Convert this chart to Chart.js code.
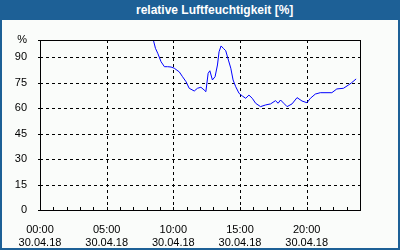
<!DOCTYPE html>
<html>
<head>
<meta charset="utf-8">
<script src="https://cdn.jsdelivr.net/npm/chart.js@4"></script>
<style>
  html, body { margin: 0; padding: 0; }
  body { width: 400px; height: 250px; background: #1d6096; position: relative; overflow: hidden; }
  #title {
    position: absolute; left: 0; top: 0; width: 400px; height: 20px;
    color: #fff; font: bold 12px "Liberation Sans", Arial, sans-serif;
    line-height: 20px; padding-left: 136px; box-sizing: border-box;
  }
  #panel { position: absolute; left: 2px; top: 20px; width: 396px; height: 228px; background: #fafcfa; }
</style>
</head>
<body>
<div id="title">relative Luftfeuchtigkeit [%]</div>
<div id="panel"><canvas id="hum" width="396" height="228"></canvas></div>
<script>
/* data: hour of day and humidity in % */
const hours = [8.5, 8.66, 8.83, 9.08, 9.33, 9.57, 9.83, 10.07, 10.45, 10.69, 10.95, 11.19, 11.57, 11.81,
  12.07, 12.31, 12.44, 12.61, 12.74, 12.93, 13.13, 13.31, 13.43, 13.58, 13.75, 13.93, 14.13, 14.31,
  14.48, 14.68, 14.93, 15.17, 15.43, 15.67, 15.92, 16.17, 16.54, 16.92, 17.29, 17.66, 17.86, 18.04,
  18.28, 18.53, 18.9, 19.28, 19.65, 20.02, 20.28, 20.65, 21.02, 21.89, 22.26, 22.76, 23.13, 23.38, 23.71];
const humidity = [100, 95.1, 92.2, 87.2, 84.3, 84.3, 84.1, 83.4, 81.2, 78.4, 75.5, 71.6, 70.0, 71.6,
  72.2, 70.6, 69.6, 80.4, 81.9, 76.5, 78.4, 85.3, 93.1, 96.5, 95.1, 93.7, 88.2, 83.4,
  76.5, 72.5, 68.6, 67.1, 65.7, 67.6, 65.7, 62.8, 60.8, 61.8, 62.4, 64.3, 62.8, 64.7,
  62.8, 60.8, 62.4, 66.1, 64.1, 63.1, 65.7, 68.2, 69.0, 69.0, 71.2, 71.6, 73.5, 74.9, 77.1];

const xTickLabels = { 0: '00:00', 5: '05:00', 10: '10:00', 15: '15:00', 20: '20:00' };
const dateLabel = '30.04.18';
const yTickValues = [0, 15, 30, 45, 60, 75, 90, 100];
const yTickLabels = ['0', '15', '30', '45', '60', '75', '90', '%'];

const FONT = { family: "'Liberation Sans', Arial, sans-serif", size: 11 };

/* dashed grid, frame round the plot and the small axis ticks */
const framePlugin = {
  id: 'frame',
  beforeDatasetsDraw(chart) {
    const { ctx, chartArea: a, scales } = chart;
    ctx.save();
    ctx.strokeStyle = '#000';
    ctx.lineWidth = 1;
    ctx.setLineDash([3, 3]);
    ctx.beginPath();
    scales.x.ticks.forEach(t => {
      if (t.value % 5 !== 0 || t.value <= 0 || t.value >= 24) return;
      const px = Math.round(scales.x.getPixelForValue(t.value)) + 0.5;
      ctx.moveTo(px, a.top);
      ctx.lineTo(px, a.bottom);
    });
    scales.y.ticks.forEach(t => {
      if (t.value <= 0 || t.value >= 100) return;
      const py = Math.round(scales.y.getPixelForValue(t.value)) + 0.5;
      ctx.moveTo(a.left, py);
      ctx.lineTo(a.right, py);
    });
    ctx.stroke();
    ctx.restore();
  },
  afterDatasetsDraw(chart) {
    const { ctx, chartArea: a, scales } = chart;
    ctx.save();
    ctx.strokeStyle = '#000';
    ctx.lineWidth = 1;
    ctx.setLineDash([]);
    ctx.strokeRect(Math.round(a.left) + 0.5, Math.round(a.top) + 0.5,
      Math.round(a.right - a.left), Math.round(a.bottom - a.top));
    ctx.beginPath();
    scales.x.ticks.forEach(t => {
      const px = Math.round(scales.x.getPixelForValue(t.value)) + 0.5;
      ctx.moveTo(px, a.bottom);
      ctx.lineTo(px, a.bottom - 3);
    });
    scales.y.ticks.forEach(t => {
      const py = Math.round(scales.y.getPixelForValue(t.value)) + 0.5;
      ctx.moveTo(a.left - 2, py);
      ctx.lineTo(a.left, py);
    });
    ctx.stroke();
    ctx.restore();
  }
};

new Chart(document.getElementById('hum'), {
  type: 'line',
  data: {
    datasets: [{
      data: hours.map((h, i) => ({ x: h, y: humidity[i] })),
      borderColor: '#0000ff',
      borderWidth: 1,
      pointRadius: 0,
      tension: 0,
      fill: false,
    }],
  },
  options: {
    responsive: false,
    animation: false,
    layout: { padding: { top: 20, right: 38, left: 0, bottom: 0 } },
    plugins: { legend: { display: false }, tooltip: { enabled: false } },
    scales: {
      x: {
        type: 'linear',
        min: 0, max: 24,
        afterFit: s => { s.height = 38; },
        border: { display: false },
        ticks: {
          stepSize: 1, autoSkip: false, maxRotation: 0, padding: 5,
          color: '#000', font: FONT,
          callback: v => xTickLabels[v] ? [xTickLabels[v], dateLabel] : '',
        },
        grid: { display: false },
      },
      y: {
        min: 0, max: 100,
        afterFit: s => { s.width = 38; },
        afterBuildTicks: s => { s.ticks = yTickValues.map(v => ({ value: v })); },
        border: { display: false },
        ticks: {
          autoSkip: false, padding: 5, color: '#000', font: FONT,
          callback: v => yTickLabels[yTickValues.indexOf(v)],
        },
        grid: { display: false },
      },
    },
  },
  plugins: [framePlugin],
});
</script>
</body>
</html>
